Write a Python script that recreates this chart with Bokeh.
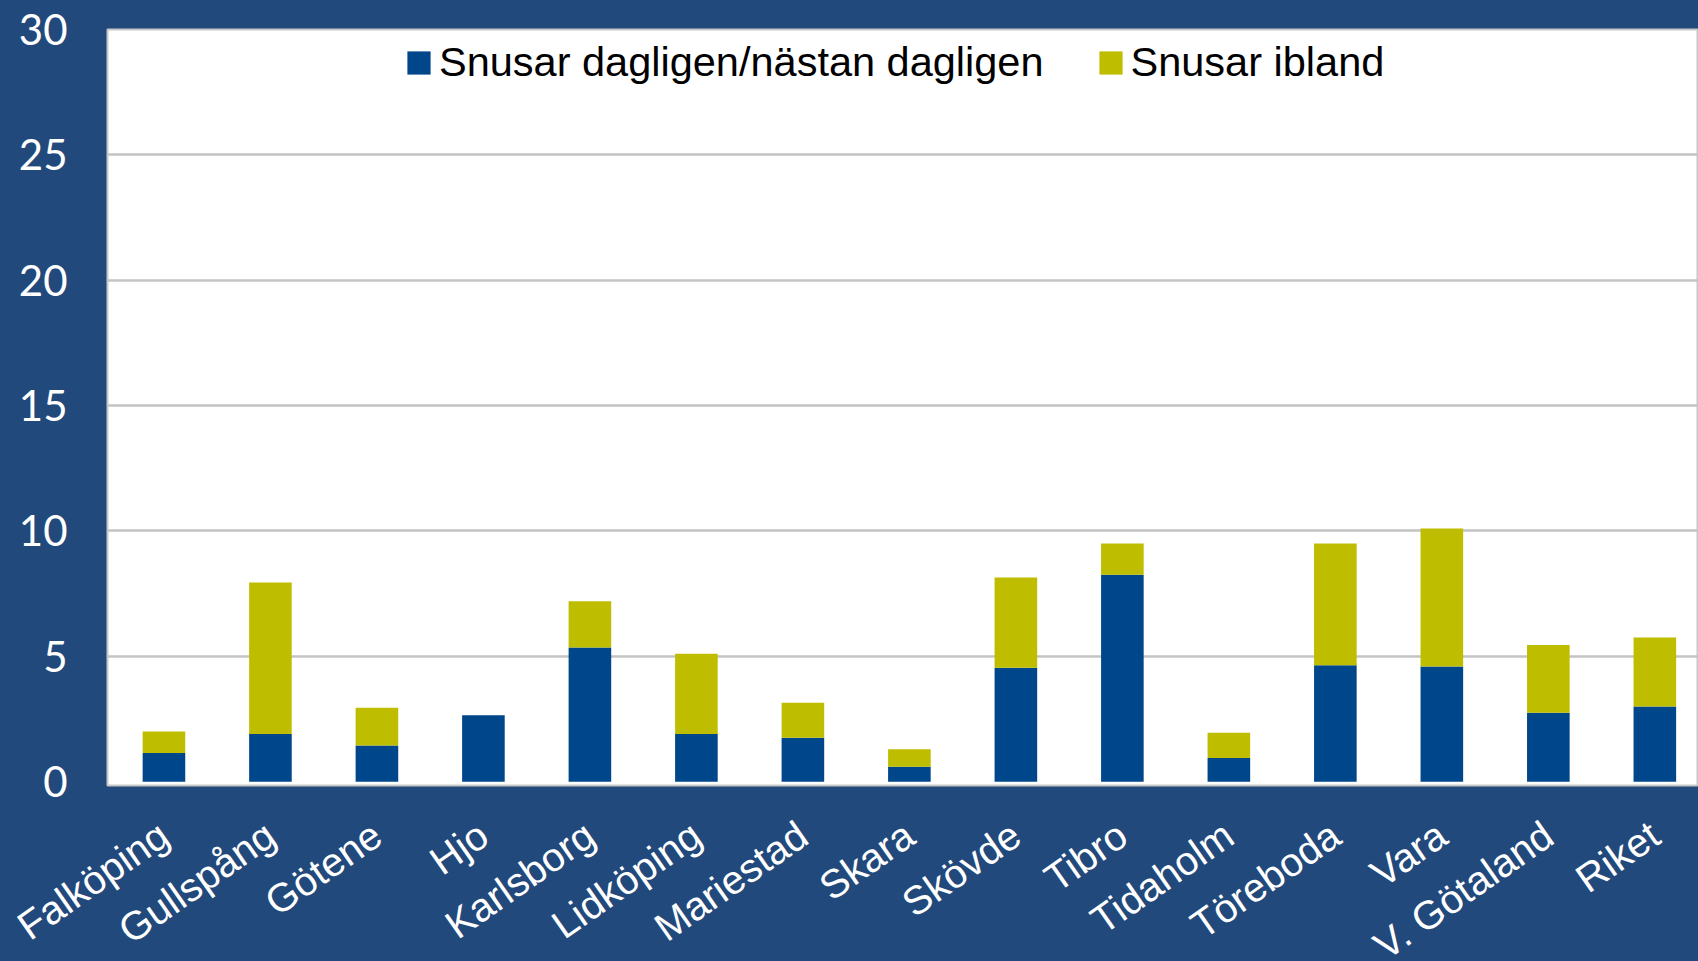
import math
from bokeh.plotting import figure
from bokeh.layouts import column
from bokeh.models import ColumnDataSource, Range1d, FixedTicker
from bokeh.core.properties import value
from bokeh.embed import file_html
from bokeh.resources import INLINE

# ---- data ----
categories = ["Falköping", "Gullspång", "Götene", "Hjo", "Karlsborg", "Lidköping",
              "Mariestad", "Skara", "Skövde", "Tibro", "Tidaholm", "Töreboda",
              "Vara", "V. Götaland", "Riket"]
daily = [1.15, 1.9, 1.45, 2.65, 5.35, 1.9, 1.75, 0.6, 4.55, 8.25, 0.95, 4.65, 4.6, 2.75, 3.0]
sometimes = [0.85, 6.05, 1.5, 0.0, 1.85, 3.2, 1.4, 0.7, 3.6, 1.25, 1.0, 4.85, 5.5, 2.7, 2.75]
series_labels = ["Snusar dagligen/nästan dagligen", "Snusar ibland"]
y_ticks = [0, 5, 10, 15, 20, 25, 30]

NAVY = "#22497B"
BLUE = "#00468A"
OLIVE = "#BFBD00"

W = 1698
TOP_H = 806
BOT_H = 961 - TOP_H
LEFT = 107
X0, X1 = -0.53, 14.41

positions = list(range(len(categories)))
src = ColumnDataSource(dict(x=positions, daily=daily, sometimes=sometimes))

p = figure(width=W, height=TOP_H, output_backend="svg", toolbar_location=None,
           x_range=Range1d(X0, X1), y_range=Range1d(-0.15, 30),
           min_border_left=LEFT, min_border_right=0, min_border_top=29,
           min_border_bottom=TOP_H - 785)

p.background_fill_color = "white"
p.border_fill_color = NAVY
p.outline_line_color = "#C8C8C8"
p.outline_line_width = 2

p.vbar_stack(["daily", "sometimes"], x="x", width=0.4, fill_color=[BLUE, OLIVE],
             line_color=None, source=src, legend_label=series_labels)

# y axis
p.yaxis.ticker = FixedTicker(ticks=y_ticks)
p.yaxis.axis_line_color = None
p.yaxis.major_tick_line_color = None
p.yaxis.minor_tick_line_color = None
p.yaxis.major_tick_in = 0
p.yaxis.major_tick_out = 0
p.yaxis.major_label_standoff = 40
p.yaxis.major_label_text_color = "white"
p.yaxis.major_label_text_font = "Lato"
p.yaxis.major_label_text_font_size = "42px"
p.xaxis.visible = False

# grid
p.xgrid.grid_line_color = None
p.ygrid.ticker = FixedTicker(ticks=y_ticks[1:])
p.ygrid.grid_line_color = "#C4C4C4"
p.ygrid.grid_line_width = 2.5

# legend
lg = p.legend[0]
lg.location = (287, 689)
lg.orientation = "horizontal"
lg.label_text_font = "Liberation Sans"
lg.label_text_font_size = "41.5px"
lg.label_text_color = "black"
lg.glyph_width = 29
lg.glyph_height = 29
lg.label_standoff = 6
lg.spacing = 52
lg.margin = 0
lg.padding = 10
lg.border_line_alpha = 0
lg.background_fill_alpha = 0

# ---- category labels strip (same horizontal scale, frame spans full width) ----
px_per_unit = (W - LEFT) / (X1 - X0)
p2 = figure(width=W, height=BOT_H, output_backend="svg", toolbar_location=None,
            x_range=Range1d(X0 - LEFT / px_per_unit, X1), y_range=Range1d(0, BOT_H),
            x_axis_type=None, y_axis_type=None, min_border=0)
for fig in (p, p2):
    if "frame_align" in fig.properties():
        fig.frame_align = False
p2.background_fill_color = NAVY
p2.border_fill_color = NAVY
p2.outline_line_color = None
p2.xgrid.visible = False
p2.ygrid.visible = False
p2.text(x=positions, y=BOT_H - 24, text=categories, angle=math.radians(35),
        text_align="right", text_baseline="middle", text_color="white",
        text_font=value("Liberation Sans"), text_font_size="40px")

layout = column(p, p2, spacing=0, styles={"background-color": NAVY})
open("out.html", "w").write(file_html(layout, INLINE))
